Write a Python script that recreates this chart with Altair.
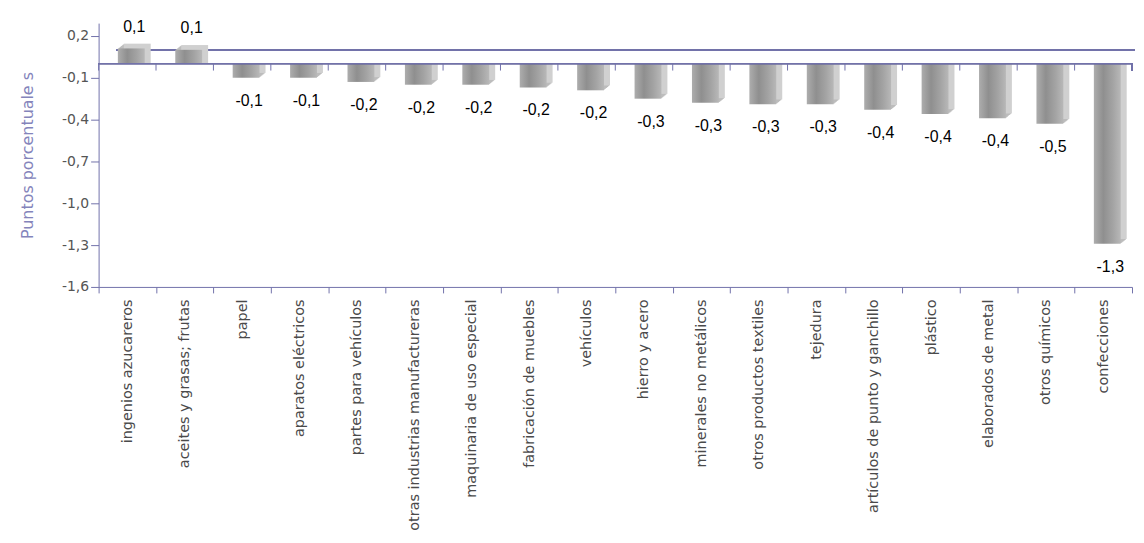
import altair as alt
import pandas as pd

categories = [
    "ingenios azucareros", "aceites y grasas; frutas", "papel", "aparatos eléctricos",
    "partes para vehículos", "otras industrias manufactureras", "maquinaria de uso especial",
    "fabricación de muebles", "vehículos", "hierro y acero", "minerales no metálicos",
    "otros productos textiles", "tejedura", "artículos de punto y ganchillo", "plástico",
    "elaborados de metal", "otros químicos", "confecciones",
]
values = [0.08, 0.07, -0.13, -0.13, -0.16, -0.18, -0.18, -0.20, -0.22, -0.28, -0.31,
          -0.32, -0.32, -0.36, -0.39, -0.42, -0.46, -1.32]
value_labels = ["0,1", "0,1", "-0,1", "-0,1", "-0,2", "-0,2", "-0,2", "-0,2", "-0,2", "-0,3",
                "-0,3", "-0,3", "-0,3", "-0,4", "-0,4", "-0,4", "-0,5", "-1,3"]
y_ticks = [0.2, -0.1, -0.4, -0.7, -1.0, -1.3, -1.6]
y_title = "Puntos porcentuale s"

df = pd.DataFrame({"cat": categories, "v": values, "lab": value_labels})

W, H = 1038, 265
AXIS_COL = "#7272aa"
CAT_FONT = "DejaVu Sans"

yscale = alt.Scale(domain=[-1.6, 0.29], nice=False, zero=False)
xscale = alt.Scale(domain=categories, paddingInner=0, paddingOuter=0)

base = alt.Chart(df)

x_main = alt.X(
    "cat:N", sort=categories, scale=xscale, title=None,
    axis=alt.Axis(
        labelAngle=-90, labelFont=CAT_FONT, labelFontSize=14.5, labelColor="#4a4a4a",
        labelPadding=6, tickBand="extent", tickSize=6, tickColor=AXIS_COL,
        domainColor=AXIS_COL, domainWidth=1, labelLimit=300, grid=False,
    ),
)
y_main = alt.Y(
    "v:Q", scale=yscale,
    axis=alt.Axis(
        values=y_ticks,
        labelExpr="replace(replace(format(datum.value, '.1f'), '.', ','), '\u2212', '-')",
        labelFont=CAT_FONT, labelFontSize=14, labelColor="#555555", labelPadding=2,
        tickSize=8, tickColor=AXIS_COL, domainColor=AXIS_COL, grid=False,
        title=y_title, titleFont=CAT_FONT, titleFontSize=16, titleFontWeight="normal",
        titleColor="#8484bb", titlePadding=26,
    ),
)

# back wall floor line
back_line = base.mark_rule(color=AXIS_COL, yOffset=-13.4, strokeWidth=1).encode(
    x=alt.value(18), x2=alt.value(W + 3), y=alt.datum(0)
)

layers = [back_line]

# depth of the 3D boxes
for k in range(1, 7):
    layers.append(
        base.mark_bar(width=27, xOffset=4 + k, yOffset=-4 - 0.8 * k,
                      color="#d0d0d0" if k == 6 else "#bdbdbd").encode(
            x=alt.X("cat:N", sort=categories, scale=xscale),
            y=alt.Y("v:Q", scale=yscale),
            y2=alt.datum(0),
        )
    )

front_fill = alt.Gradient(
    gradient="linear", x1=0, x2=1, y1=0, y2=0,
    stops=[
        alt.GradientStop(offset=0, color="#adadad"),
        alt.GradientStop(offset=0.35, color="#8f8f8f"),
        alt.GradientStop(offset=0.7, color="#a3a3a3"),
        alt.GradientStop(offset=1, color="#b8b8b8"),
    ],
)
front = base.mark_bar(width=27, xOffset=4, yOffset=-4, color=front_fill).encode(
    x=x_main, y=y_main, y2=alt.datum(0)
)
layers.append(front)

# front zero line with ticks at category boundaries
zero_line = base.mark_rule(color=AXIS_COL, strokeWidth=1).encode(
    x=alt.value(0), x2=alt.value(W), y=alt.datum(0)
)
zero_ticks = base.mark_rule(color=AXIS_COL, strokeWidth=1).encode(
    x=alt.X("cat:N", sort=categories, scale=xscale, bandPosition=0),
    y=alt.datum(0), y2=alt.datum(-0.05),
)
zero_tick_end = base.mark_rule(color=AXIS_COL, strokeWidth=1).encode(
    x=alt.value(W), y=alt.datum(0), y2=alt.datum(-0.05)
)
layers += [zero_line, zero_ticks, zero_tick_end]

label_pos = base.transform_filter("datum.v >= 0").mark_text(
    font="Liberation Sans", fontSize=16, color="#000000", dx=7, dy=-26, baseline="middle"
).encode(x=alt.X("cat:N", sort=categories, scale=xscale), y=alt.Y("v:Q", scale=yscale), text="lab:N")
label_neg = base.transform_filter("datum.v < 0").mark_text(
    font="Liberation Sans", fontSize=16, color="#000000", dx=7, dy=19, baseline="middle"
).encode(x=alt.X("cat:N", sort=categories, scale=xscale), y=alt.Y("v:Q", scale=yscale), text="lab:N")
layers += [label_pos, label_neg]

chart = alt.layer(*layers).properties(
    width=W, height=H,
    autosize=alt.AutoSizeParams(type="none"),
    padding={"left": 91, "top": 14, "right": 4, "bottom": 247},
    background="white",
).configure_view(stroke=None)

chart.save("out.html", embed_options={"renderer": "svg", "actions": False})
